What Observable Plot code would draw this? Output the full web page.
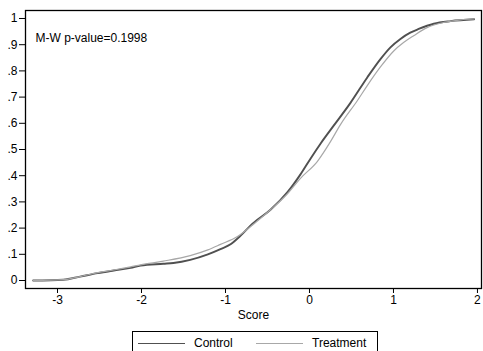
<!DOCTYPE html>
<html>
<head>
<meta charset="utf-8">
<script src="https://cdn.jsdelivr.net/npm/d3@7"></script>
<script src="https://cdn.jsdelivr.net/npm/@observablehq/plot@0.6"></script>
<style>
  html, body { margin: 0; padding: 0; background: #fff; }
  body { width: 483px; height: 351px; overflow: hidden; font-family: "Liberation Sans", Arial, sans-serif; }
  #chart svg { display: block; }
  #legend { position: absolute; left: 132px; top: 331px; width: 246px; height: 30px; border: 1px solid #000; box-sizing: border-box; font-size: 12px; }
  .item { position: absolute; top: 4px; display: flex; align-items: center; }
  .swatch { display: inline-block; width: 47px; margin-right: 9px; }
</style>
</head>
<body>
<div id="chart"></div>
<div id="legend"></div>
<script>
const seriesNames = ["Control", "Treatment"];
const seriesColors = ["#505050", "#a8a8a8"];
const seriesWidths = [1.9, 1.2];

const controlX = [-3.29,-2.93,-2.73,-2.52,-2.33,-2.13,-2.01,-1.74,-1.62,-1.42,-1.21,-1.06,-0.93,-0.85,-0.667,-0.464,-0.262,-0.107,0.012,0.131,0.286,0.488,0.69,0.845,0.964,1.083,1.20,1.30,1.48,1.68,1.96];
const controlY = [0,0.003,0.015,0.028,0.038,0.048,0.057,0.064,0.067,0.079,0.1,0.12,0.14,0.162,0.22,0.27,0.337,0.405,0.465,0.522,0.59,0.678,0.776,0.845,0.89,0.922,0.946,0.96,0.98,0.99,0.997];

const treatX = [-3.29,-2.93,-2.73,-2.52,-2.33,-2.13,-2.01,-1.74,-1.42,-1.21,-1.06,-0.857,-0.667,-0.464,-0.262,-0.107,0.095,0.25,0.369,0.571,0.69,0.845,1.0,1.12,1.24,1.40,1.60,1.80,1.96];
const treatY = [0,0.003,0.015,0.03,0.04,0.052,0.06,0.074,0.095,0.117,0.138,0.168,0.215,0.27,0.331,0.39,0.455,0.53,0.595,0.687,0.745,0.815,0.875,0.908,0.934,0.965,0.985,0.995,0.998];

const xTicks = [-3, -2, -1, 0, 1, 2];
const yTicks = [0, 0.1, 0.2, 0.3, 0.4, 0.5, 0.6, 0.7, 0.8, 0.9, 1];
const yTickLabels = ["0", ".1", ".2", ".3", ".4", ".5", ".6", ".7", ".8", ".9", "1"];
const xLabel = "Score";
const annotation = "M-W p-value=0.1998";

const data = [
  ...controlX.map((x, i) => ({x, y: controlY[i], s: seriesNames[0]})),
  ...treatX.map((x, i) => ({x, y: treatY[i], s: seriesNames[1]}))
];

const W = 483, H = 325;
const plot = Plot.plot({
  width: W,
  height: H,
  marginLeft: 25,
  marginRight: 2,
  marginTop: 10,
  marginBottom: H - 288,
  style: { fontFamily: "'Liberation Sans', Arial, sans-serif", fontSize: "12px", color: "#000", background: "#fff" },
  x: { domain: [-3.381, 2.048] },
  y: { domain: [-0.0305, 1.0305] },
  marks: [
    Plot.frame({ stroke: "#000", strokeWidth: 1.3 }),
    Plot.axisX({ ticks: xTicks, tickSize: 5, tickPadding: 2, tickFormat: d => d < 0 ? "-" + Math.abs(d) : String(d), label: xLabel, labelAnchor: "center", labelArrow: false, labelOffset: 30 }),
    Plot.axisY({ ticks: yTicks, tickSize: 6, tickPadding: 2, tickFormat: d => yTickLabels[yTicks.findIndex(t => Math.abs(t - d) < 1e-9)], label: null }),
    ...seriesNames.map((name, i) => Plot.line(data.filter(d => d.s === name), { x: "x", y: "y", stroke: seriesColors[i], strokeWidth: seriesWidths[i], curve: "monotone-x" })),
    Plot.text([annotation], { frameAnchor: "top-left", dx: 10, dy: 23, text: d => d, textAnchor: "start", fontSize: 12 })
  ]
});
document.getElementById("chart").appendChild(plot);

const legend = document.getElementById("legend");
const lefts = [5, 123];
seriesNames.forEach((name, i) => {
  const item = document.createElement("div");
  item.className = "item";
  item.style.left = lefts[i] + "px";
  const sw = document.createElement("span");
  sw.className = "swatch";
  sw.style.borderTop = seriesWidths[i] + "px solid " + seriesColors[i];
  item.appendChild(sw);
  item.appendChild(document.createTextNode(name));
  legend.appendChild(item);
});
</script>
</body>
</html>
